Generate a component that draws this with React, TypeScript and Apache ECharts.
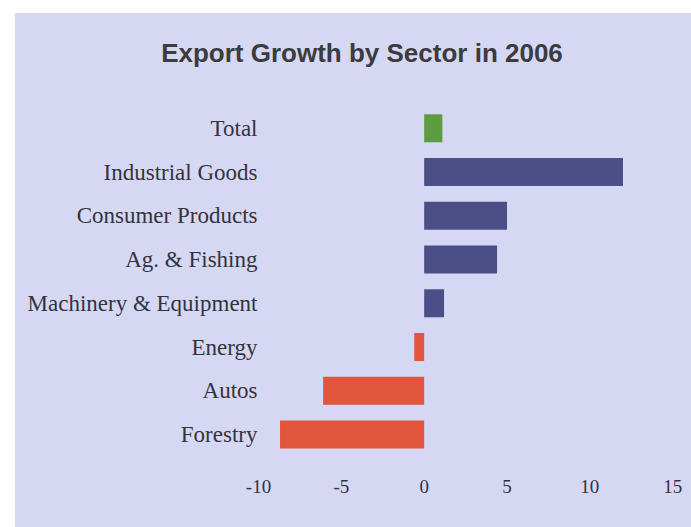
import React, { useEffect, useRef } from "react";
import * as echarts from "echarts";

const categories = [
  "Total",
  "Industrial Goods",
  "Consumer Products",
  "Ag. & Fishing",
  "Machinery & Equipment",
  "Energy",
  "Autos",
  "Forestry",
];
const growth = [1.1, 12.0, 5.0, 4.4, 1.2, -0.6, -6.1, -8.7];
const xTicks = [-10, -5, 0, 5, 10, 15];

const GREEN = "#5e9c42";
const NAVY = "#4b4e87";
const RED = "#e0553b";

export default function App() {
  const ref = useRef<HTMLDivElement>(null);
  useEffect(() => {
    if (!ref.current) return;
    const chart = echarts.init(ref.current, undefined, { renderer: "svg" });
    const option = {
      animation: false,
      backgroundColor: "#ffffff",
      graphic: [
        {
          type: "rect",
          shape: { x: 15, y: 13, width: 691 - 15, height: 527 - 13 },
          style: { fill: "#d6d8f3" },
          z: -10,
        },
        {
          type: "text",
          x: 362,
          y: 53,
          style: {
            text: "Export Growth by Sector in 2006",
            fontFamily: "Liberation Sans, Arial, sans-serif",
            fontWeight: "bold",
            fontSize: 26,
            fill: "#3b3b40",
            align: "center",
            verticalAlign: "middle",
          },
        },
      ],
      grid: { left: 258.5, right: 18.3, top: 106.4, bottom: 70.6, containLabel: false },
      xAxis: {
        type: "value",
        min: xTicks[0],
        max: xTicks[xTicks.length - 1],
        interval: 5,
        axisLine: { show: false },
        axisTick: { show: false },
        splitLine: { show: false },
        axisLabel: {
          margin: 21,
          fontFamily: "Liberation Serif, Times New Roman, serif",
          fontSize: 19,
          color: "#333340",
        },
      },
      yAxis: {
        type: "category",
        inverse: true,
        data: categories,
        axisLine: { show: false },
        axisTick: { show: false },
        splitLine: { show: false },
        axisLabel: {
          margin: 1,
          fontFamily: "Liberation Serif, Times New Roman, serif",
          fontSize: 23,
          color: "#333340",
        },
      },
      series: [
        {
          type: "bar",
          barWidth: 28,
          data: growth.map((v, i) => ({
            value: v,
            itemStyle: { color: i === 0 ? GREEN : v >= 0 ? NAVY : RED },
          })),
        },
      ],
    };
    chart.setOption(option);
    return () => chart.dispose();
  }, []);
  return (
    <div
      ref={ref}
      style={{ position: "fixed", left: 0, top: 0, width: 691, height: 527 }}
    />
  );
}
